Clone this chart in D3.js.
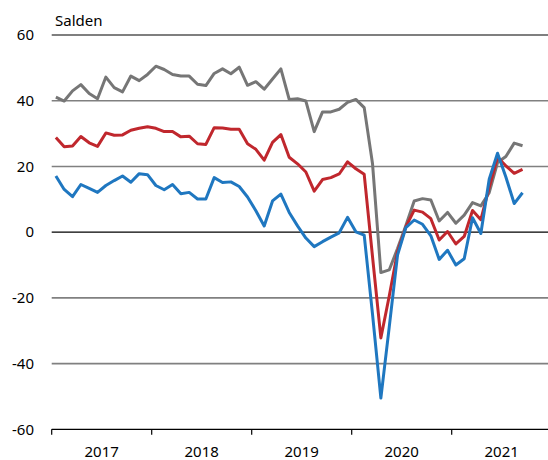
<!DOCTYPE html>
<html>
<head>
<meta charset="utf-8">
<script src="https://cdn.jsdelivr.net/npm/d3@7"></script>
<style>
  html, body { margin: 0; padding: 0; background: #fff; }
  svg { display: block; font-family: "Noto Sans", sans-serif; }
</style>
</head>
<body>
<svg id="chart" width="548" height="460"></svg>
<script>
// ---- data (monthly, Jan 2017 - Sep 2021) ----
const years = [2017, 2018, 2019, 2020, 2021];
const yTicks = [60, 40, 20, 0, -20, -40, -60];
const yLabel = "Salden";

const seriesGray = [
  41.1, 39.9, 43.0, 44.9, 42.2, 40.6, 47.2, 44.0, 42.7, 47.5, 46.1, 48.0,
  50.5, 49.5, 48.0, 47.5, 47.5, 45.0, 44.6, 48.3, 49.7, 48.2, 50.2, 44.7,
  45.8, 43.5, 46.6, 49.7, 40.4, 40.6, 39.9, 30.6, 36.6, 36.6, 37.4, 39.5,
  40.4, 37.9, 20.8, -12.3, -11.5, -5.0, 2.0, 9.5, 10.2, 9.8, 3.4, 6.0,
  2.7, 5.2, 9.0, 8.0, 12.0, 21.2, 23.0, 27.1, 26.3
];
const seriesRed = [
  28.8, 26.0, 26.2, 29.1, 27.2, 26.1, 30.2, 29.5, 29.6, 31.0, 31.6, 32.1,
  31.6, 30.6, 30.6, 29.0, 29.2, 26.9, 26.7, 31.8, 31.7, 31.3, 31.3, 26.9,
  25.2, 21.9, 27.3, 29.7, 22.8, 20.8, 18.3, 12.5, 16.0, 16.6, 17.7, 21.4,
  19.3, 17.6, -7.5, -32.2, -19.5, -6.0, 1.6, 6.7, 6.1, 4.1, -2.4, 0.2,
  -3.6, -1.3, 6.6, 3.8, 13.6, 22.8, 20.2, 17.9, 19.1
];
const seriesBlue = [
  17.1, 13.0, 10.8, 14.5, 13.3, 12.1, 14.2, 15.7, 17.1, 15.2, 17.8, 17.5,
  14.2, 12.9, 14.5, 11.7, 12.1, 10.1, 10.1, 16.6, 15.1, 15.3, 13.9, 10.7,
  6.5, 1.9, 9.5, 11.6, 6.0, 1.9, -1.8, -4.4, -2.9, -1.5, -0.2, 4.5,
  0.1, -0.9, -25.0, -50.5, -29.0, -7.0, 1.4, 3.7, 2.4, -1.1, -8.3, -5.5,
  -10.0, -8.1, 4.4, -0.4, 16.1, 24.0, 16.8, 8.7, 12.0
];

// month categories for the whole axis span (5 years)
const months = [];
years.forEach(yr => { for (let m = 1; m <= 12; m++) months.push(yr + "-" + String(m).padStart(2, "0")); });

const series = [
  { values: seriesGray, color: "#767676" },
  { values: seriesRed,  color: "#c0272d" },
  { values: seriesBlue, color: "#1f77c0" }
];

// ---- layout ----
const svg = d3.select("#chart");
const plotLeft = 51.7, plotRight = 551.7, plotTop = 35, plotBottom = 429.3;

const x = d3.scaleBand().domain(months).range([plotLeft, plotRight]).paddingInner(0).paddingOuter(0);
const y = d3.scaleLinear().domain([-60, 60]).range([plotBottom, plotTop]);
const cx = i => x(months[i]) + x.bandwidth() / 2;

// gridlines
svg.append("g").selectAll("line")
  .data(yTicks.filter(v => v !== -60))
  .join("line")
  .attr("x1", plotLeft).attr("x2", 548)
  .attr("y1", d => y(d)).attr("y2", d => y(d))
  .attr("stroke", d => (d === 0 || d === 60) ? "#000" : "#808080")
  .attr("stroke-width", d => (d === 0 || d === 60) ? 1.2 : 1.6);

// y labels
svg.append("g").selectAll("text")
  .data(yTicks)
  .join("text")
  .attr("x", 34).attr("y", d => y(d))
  .attr("dy", "0.35em")
  .attr("text-anchor", "end")
  .attr("font-size", 15)
  .attr("fill", "#000")
  .text(d => d);

svg.append("text")
  .attr("x", 55).attr("y", 25.5)
  .attr("font-size", 15)
  .attr("fill", "#000")
  .text(yLabel);

// bottom axis
const axisG = svg.append("g");
axisG.append("line")
  .attr("x1", plotLeft).attr("x2", 548)
  .attr("y1", plotBottom).attr("y2", plotBottom)
  .attr("stroke", "#000").attr("stroke-width", 1.2);
axisG.selectAll("line.tick")
  .data(years)
  .join("line")
  .attr("class", "tick")
  .attr("x1", d => x(d + "-01")).attr("x2", d => x(d + "-01"))
  .attr("y1", plotBottom).attr("y2", plotBottom + 5.5)
  .attr("stroke", "#000").attr("stroke-width", 1.2);
axisG.selectAll("text")
  .data(years)
  .join("text")
  .attr("x", d => x(d + "-07"))
  .attr("y", 457)
  .attr("text-anchor", "middle")
  .attr("font-size", 15)
  .attr("fill", "#000")
  .text(d => d);

// lines
const line = d3.line().x((d, i) => cx(i)).y(d => y(d));
svg.append("g").selectAll("path")
  .data(series)
  .join("path")
  .attr("d", s => line(s.values))
  .attr("fill", "none")
  .attr("stroke", s => s.color)
  .attr("stroke-width", 3)
  .attr("stroke-linejoin", "round")
  .attr("stroke-linecap", "butt");
</script>
</body>
</html>
